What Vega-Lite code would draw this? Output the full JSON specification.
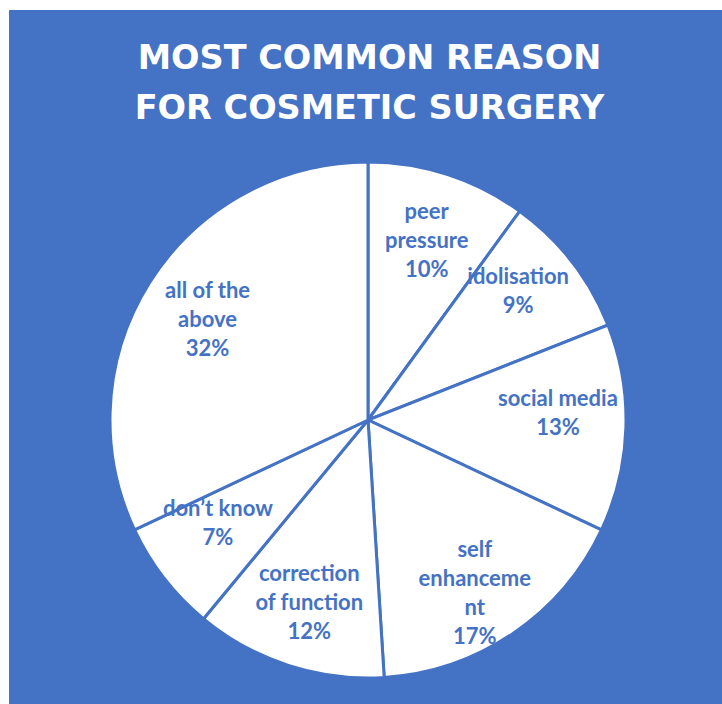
{
  "$schema": "https://vega.github.io/schema/vega-lite/v6.json",
  "width": 722,
  "height": 704,
  "autosize": {"type": "fit", "contains": "padding"},
  "padding": {"left": 9, "top": 10, "right": 0, "bottom": 0},
  "background": "white",
  "view": {"fill": "#4472C4", "stroke": null},
  "title": {
    "text": ["MOST COMMON REASON", "FOR COSMETIC SURGERY"],
    "color": "white",
    "font": "DejaVu Sans",
    "fontSize": 33.5,
    "fontWeight": "bold",
    "anchor": "middle",
    "offset": -116,
    "lineHeight": 50,
    "dx": 4
  },
  "data": {
    "values": [
      {"rank": 1, "reason": "peer pressure", "value": 10, "label": ["peer", "pressure", "10%"]},
      {"rank": 2, "reason": "idolisation", "value": 9, "label": ["idolisation", "9%"]},
      {"rank": 3, "reason": "social media", "value": 13, "label": ["social media", "13%"]},
      {"rank": 4, "reason": "self enhancement", "value": 17, "label": ["self", "enhanceme", "nt", "17%"]},
      {"rank": 5, "reason": "correction of function", "value": 12, "label": ["correction", "of function", "12%"]},
      {"rank": 6, "reason": "don’t know", "value": 7, "label": ["don’t know", "7%"]},
      {"rank": 7, "reason": "all of the above", "value": 32, "label": ["all of the", "above", "32%"]}
    ]
  },
  "encoding": {
    "theta": {"field": "value", "type": "quantitative", "stack": true},
    "order": {"field": "rank", "type": "quantitative"}
  },
  "layer": [
    {
      "mark": {"type": "arc", "outerRadius": 258, "fill": "white", "stroke": "#4472C4", "strokeWidth": 3, "yOffset": 63, "xOffset": 2.5}
    },
    {
      "mark": {"type": "text", "radius": 190, "yOffset": 63, "xOffset": 2.5, "dy": -27, "font": "Lato", "fontSize": 22, "fontWeight": "bold", "color": "#4472C4", "lineHeight": 29, "align": "center", "baseline": "middle"},
      "encoding": {
        "text": {"field": "label"}
      }
    }
  ]
}
